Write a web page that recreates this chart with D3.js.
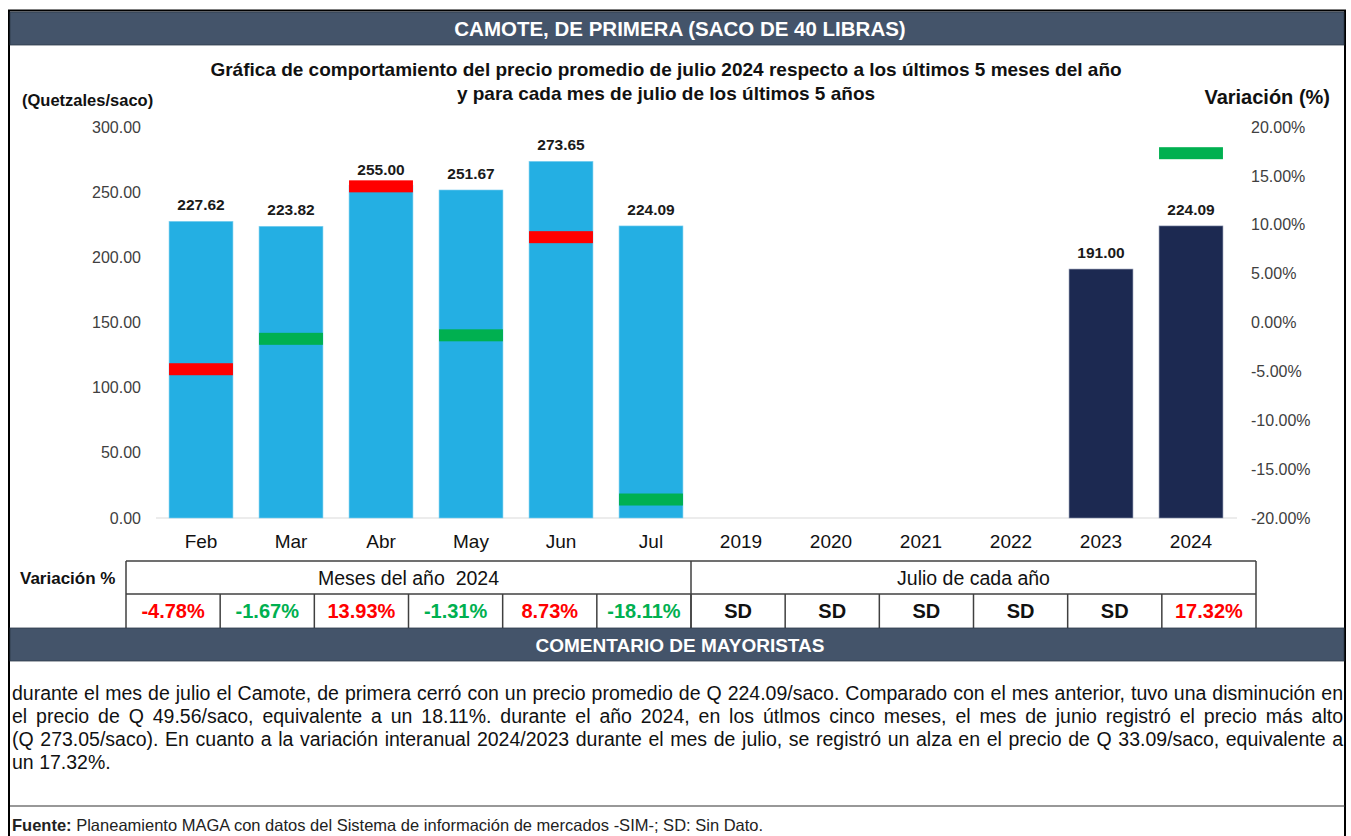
<!DOCTYPE html>
<html>
<head>
<meta charset="utf-8">
<script src="https://cdn.jsdelivr.net/npm/d3@7"></script>
<style>
  body { margin: 0; background: #fff; }
  svg { display: block; font-family: "Liberation Sans", Arial, sans-serif; }
</style>
</head>
<body>
<svg id="chart" width="1351" height="836"></svg>
<script>
// data
const categories = ["Feb", "Mar", "Abr", "May", "Jun", "Jul", "2019", "2020", "2021", "2022", "2023", "2024"];
const prices = [227.62, 223.82, 255.0, 251.67, 273.65, 224.09, null, null, null, null, 191.0, 224.09];
const variation = [-4.78, -1.67, 13.93, -1.31, 8.73, -18.11, null, null, null, null, null, 17.32];
const priceTicks = [0, 50, 100, 150, 200, 250, 300];
const pctTicks = [-20, -15, -10, -5, 0, 5, 10, 15, 20];
const monthCats = categories.slice(0, 6);
const yearCats = categories.slice(6);
const markerRed = ["Feb", "Abr", "Jun"];
const tableRed = ["Feb", "Abr", "Jun", "2024"];

const headerTitle = "CAMOTE, DE PRIMERA (SACO DE 40 LIBRAS)";
const chartTitle = [
  "Gráfica de comportamiento del precio promedio de julio 2024 respecto a los últimos 5 meses del año",
  "y para cada mes de julio de los últimos 5 años",
];
const commentLines = [
  "durante el mes de julio el Camote, de primera cerró con un precio promedio de Q 224.09/saco. Comparado con el mes anterior, tuvo una disminución en",
  "el precio de Q 49.56/saco, equivalente a un 18.11%. durante el año 2024, en los útlmos cinco meses, el mes de junio registró el precio más alto",
  "(Q 273.05/saco).  En cuanto a la variación interanual 2024/2023 durante el mes de julio, se registró un alza en el precio de Q 33.09/saco, equivalente a",
  "un 17.32%.",
];

const HEADER = "#44546a";
const BLUE = "#24afe3";
const NAVY = "#1c2951";
const RED = "#ff0000";
const GREEN = "#00b050";

const svg = d3.select("#chart");

// outer frame + header bar
svg.append("rect").attr("x", 9).attr("y", 10.5).attr("width", 1336).attr("height", 840)
  .attr("fill", "none").attr("stroke", "#000").attr("stroke-width", 2);
svg.append("rect").attr("x", 10).attr("y", 12).attr("width", 1334).attr("height", 33)
  .attr("fill", HEADER).attr("stroke", "#2e3a4a").attr("stroke-width", 0.8);
svg.append("text").attr("x", 680).attr("y", 29).attr("dy", "0.35em")
  .attr("text-anchor", "middle").attr("fill", "#fff")
  .attr("font-size", 20.5).attr("font-weight", "bold").text(headerTitle);

// chart title
svg.selectAll(".ctitle").data(chartTitle).join("text")
  .attr("class", "ctitle")
  .attr("x", 666).attr("y", (d, i) => 69 + i * 24).attr("dy", "0.35em")
  .attr("text-anchor", "middle").attr("font-size", 19).attr("font-weight", "bold")
  .attr("fill", "#111").text((d) => d);

svg.append("text").attr("x", 22).attr("y", 100).attr("dy", "0.35em")
  .attr("font-size", 16.5).attr("font-weight", "bold").attr("fill", "#111")
  .text("(Quetzales/saco)");
svg.append("text").attr("x", 1330).attr("y", 97).attr("dy", "0.35em")
  .attr("text-anchor", "end").attr("font-size", 20).attr("font-weight", "bold")
  .attr("fill", "#111").text("Variación (%)");

// scales
const x = d3.scaleBand().domain(categories).range([156, 1236])
  .paddingInner(0.29).paddingOuter(0.145);
const y = d3.scaleLinear().domain([0, 300]).range([518, 127]);
const yr = d3.scaleLinear().domain([-20, 20]).range([518, 127]);

// axes
const leftAxis = svg.append("g").attr("transform", "translate(144,0)")
  .call(d3.axisLeft(y).tickValues(priceTicks).tickFormat(d3.format(".2f")).tickSize(0));
const rightAxis = svg.append("g").attr("transform", "translate(1248,0)")
  .call(d3.axisRight(yr).tickValues(pctTicks).tickFormat((d) => d.toFixed(2) + "%").tickSize(0));
[leftAxis, rightAxis].forEach((g) => {
  g.select(".domain").remove();
  g.selectAll("text").attr("font-size", 16).attr("fill", "#404040")
    .attr("font-family", "Liberation Sans, Arial, sans-serif");
});

// baseline
svg.append("line").attr("x1", 156).attr("x2", 1237).attr("y1", y(0)).attr("y2", y(0))
  .attr("stroke", "#d9d9d9").attr("stroke-width", 1.2);

// bars
const barData = categories.map((c, i) => ({ cat: c, price: prices[i], pct: variation[i] }));
svg.selectAll(".bar").data(barData.filter((d) => d.price != null)).join("rect")
  .attr("class", "bar")
  .attr("x", (d) => x(d.cat)).attr("width", x.bandwidth())
  .attr("y", (d) => y(d.price)).attr("height", (d) => y(0) - y(d.price))
  .attr("fill", (d) => (monthCats.includes(d.cat) ? BLUE : NAVY))
  .attr("stroke", (d) => (monthCats.includes(d.cat) ? "#7fd0f0" : "#8a93ad"))
  .attr("stroke-width", 0.6);

// variation markers on the right axis
svg.selectAll(".marker").data(barData.filter((d) => d.pct != null)).join("rect")
  .attr("class", "marker")
  .attr("x", (d) => x(d.cat)).attr("width", x.bandwidth())
  .attr("y", (d) => yr(d.pct) - 6).attr("height", 12)
  .attr("fill", (d) => (markerRed.includes(d.cat) ? RED : GREEN));

// value labels
svg.selectAll(".vlabel").data(barData.filter((d) => d.price != null)).join("text")
  .attr("class", "vlabel")
  .attr("x", (d) => x(d.cat) + x.bandwidth() / 2)
  .attr("y", (d) => y(d.price) - 11)
  .attr("text-anchor", "middle").attr("font-size", 15.5).attr("font-weight", "bold")
  .attr("fill", "#1a1a1a").text((d) => d.price.toFixed(2));

// category labels
svg.selectAll(".xlabel").data(categories).join("text")
  .attr("class", "xlabel")
  .attr("x", (d) => x(d) + x.bandwidth() / 2).attr("y", 541).attr("dy", "0.35em")
  .attr("text-anchor", "middle").attr("font-size", 19).attr("fill", "#111")
  .text((d) => d);

// variation table
const tx = d3.scaleBand().domain(categories).range([126, 1256]);
const rowTop = 561, rowMid = 594, rowBot = 628;
const table = svg.append("g").attr("stroke", "#404040").attr("stroke-width", 1.5);
table.append("line").attr("x1", 126).attr("x2", 1256).attr("y1", rowTop).attr("y2", rowTop);
table.append("line").attr("x1", 126).attr("x2", 1256).attr("y1", rowMid).attr("y2", rowMid);
table.append("line").attr("x1", 126).attr("x2", 126).attr("y1", rowTop).attr("y2", rowBot);
table.append("line").attr("x1", 1256).attr("x2", 1256).attr("y1", rowTop).attr("y2", rowBot);
table.append("line").attr("x1", tx(yearCats[0])).attr("x2", tx(yearCats[0])).attr("y1", rowTop).attr("y2", rowBot);
table.selectAll(".cdiv").data(categories.slice(1)).join("line")
  .attr("class", "cdiv")
  .attr("x1", (d) => tx(d)).attr("x2", (d) => tx(d)).attr("y1", rowMid).attr("y2", rowBot);

svg.append("text").attr("x", 20).attr("y", 578).attr("dy", "0.35em")
  .attr("font-size", 17).attr("font-weight", "bold").attr("fill", "#111").text("Variación %");
svg.append("text").attr("x", (126 + tx(yearCats[0])) / 2).attr("y", 578).attr("dy", "0.35em")
  .attr("text-anchor", "middle").attr("font-size", 19.5).attr("fill", "#111")
  .attr("xml:space", "preserve").text("Meses del año  2024");
svg.append("text").attr("x", (tx(yearCats[0]) + 1256) / 2).attr("y", 578).attr("dy", "0.35em")
  .attr("text-anchor", "middle").attr("font-size", 19.5).attr("fill", "#111")
  .text("Julio de cada año");

svg.selectAll(".tval").data(barData).join("text")
  .attr("class", "tval")
  .attr("x", (d) => tx(d.cat) + tx.bandwidth() / 2).attr("y", 611).attr("dy", "0.35em")
  .attr("text-anchor", "middle").attr("font-size", 20).attr("font-weight", "bold")
  .attr("fill", (d) => (d.pct == null ? "#111" : tableRed.includes(d.cat) ? RED : GREEN))
  .text((d) => (d.pct == null ? "SD" : d.pct.toFixed(2) + "%"));

// comment header
svg.append("rect").attr("x", 10).attr("y", 628).attr("width", 1334).attr("height", 33)
  .attr("fill", HEADER).attr("stroke", "#2e3a4a").attr("stroke-width", 0.8);
svg.append("text").attr("x", 680).attr("y", 645).attr("dy", "0.35em")
  .attr("text-anchor", "middle").attr("fill", "#fff")
  .attr("font-size", 19).attr("font-weight", "bold").text("COMENTARIO DE MAYORISTAS");

// comment paragraph: condensed type, justified word by word
const left = 12, right = 1343, fs = 19.5;
const para = svg.append("g").attr("font-family", "'Liberation Sans Narrow', 'Arial Narrow', 'Liberation Sans', sans-serif");
const probe = para.append("text").attr("font-size", fs).attr("xml:space", "preserve").text(commentLines[0]);
const sx = Math.min(1, (right - left - 2) / probe.node().getComputedTextLength());
probe.remove();
para.attr("transform", `scale(${sx},1)`);
commentLines.forEach((line, i) => {
  const words = line.split(/\s+/);
  const t = para.append("text").attr("y", 700 + i * 23)
    .attr("font-size", fs).attr("fill", "#111");
  const spans = words.map((w) => t.append("tspan").text(w));
  const widths = spans.map((s) => s.node().getComputedTextLength());
  const total = d3.sum(widths);
  const last = i === commentLines.length - 1;
  const L = left / sx, R = right / sx;
  const gap = last || words.length < 2 ? fs * 0.28 : (R - L - total) / (words.length - 1);
  let cx = L;
  spans.forEach((s, j) => {
    s.attr("x", cx);
    cx += widths[j] + gap;
  });
});

// footer
svg.append("line").attr("x1", 10).attr("x2", 1345).attr("y1", 806).attr("y2", 806)
  .attr("stroke", "#333").attr("stroke-width", 1.2);
const foot = svg.append("text").attr("x", 12).attr("y", 831).attr("font-size", 16.5).attr("fill", "#222");
foot.append("tspan").attr("font-weight", "bold").text("Fuente:");
foot.append("tspan").text(" Planeamiento MAGA con datos del Sistema de información de mercados -SIM-; SD: Sin Dato.");
</script>
</body>
</html>
